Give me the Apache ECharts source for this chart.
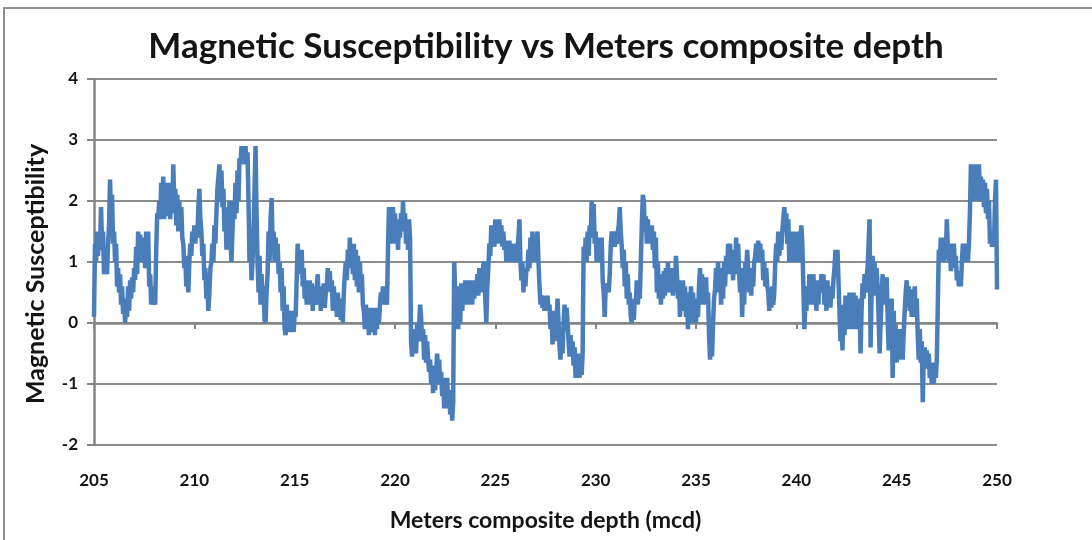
<!DOCTYPE html>
<html>
<head>
<meta charset="utf-8">
<script src="https://cdn.jsdelivr.net/npm/echarts@6/dist/echarts.min.js"></script>
<style>
html,body{margin:0;padding:0;background:#fff;}
#chart{width:1092px;height:540px;}
</style>
</head>
<body>
<div id="chart"></div>
<script>
// Chart text
const titleText = 'Magnetic Susceptibility vs Meters composite depth';
const yAxisName = 'Magnetic Susceptibility';
const xAxisName = 'Meters composite depth (mcd)';

// Axis ticks
const xTicks = [205, 210, 215, 220, 225, 230, 235, 240, 245, 250];
const yTicks = [-2, -1, 0, 1, 2, 3, 4];

// Data: [depth (mcd), magnetic susceptibility] in 5 m segments
const seg205 = [
[205.00,0.1],[205.05,1.3],[205.10,1.0],[205.15,1.5],[205.20,1.1],[205.25,1.4],[205.30,1.2],[205.35,1.9],[205.40,1.3],[205.45,1.5],
[205.50,0.8],[205.55,1.2],[205.60,1.0],[205.65,0.8],[205.70,1.3],[205.75,1.6],[205.80,2.35],[205.85,1.7],[205.90,2.1],[205.95,1.3],
[206.00,1.5],[206.05,1.0],[206.10,1.3],[206.15,0.6],[206.20,0.9],[206.25,0.5],[206.30,0.8],[206.35,0.3],[206.40,0.6],[206.45,0.15],
[206.50,0.4],[206.55,0.0],[206.60,0.3],[206.65,0.1],[206.70,0.6],[206.75,0.2],[206.80,0.7],[206.85,0.4],[206.90,0.75],[206.95,0.5],
[207.00,0.9],[207.05,0.7],[207.10,1.25],[207.15,0.8],[207.20,1.5],[207.25,1.0],[207.30,1.45],[207.35,1.0],[207.40,1.4],[207.45,1.1],
[207.50,1.3],[207.55,0.9],[207.60,1.5],[207.65,1.0],[207.70,1.5],[207.75,0.6],[207.80,0.8],[207.85,0.3],[207.90,0.6],[207.95,0.3],
[208.00,0.5],[208.05,0.3],[208.10,1.2],[208.15,1.8],[208.20,1.7],[208.25,2.0],[208.30,1.7],[208.35,2.3],[208.40,1.8],[208.45,2.4],
[208.50,1.7],[208.55,2.2],[208.60,1.8],[208.65,2.3],[208.70,1.75],[208.75,2.2],[208.80,1.7],[208.85,2.3],[208.90,1.8],[208.95,2.6],
[209.00,2.0],[209.05,2.2],[209.10,1.6],[209.15,2.1],[209.20,1.5],[209.25,2.0],[209.30,1.6],[209.35,1.9],[209.40,1.4],[209.45,1.3],
[209.50,0.9],[209.55,1.1],[209.60,0.6],[209.65,0.8],[209.70,0.5],[209.75,1.0],[209.80,1.3],[209.85,1.1],[209.90,1.5],[209.95,1.3]
];
const seg210 = [
[210.00,1.6],[210.05,1.3],[210.10,1.6],[210.15,1.4],[210.20,1.9],[210.25,2.2],[210.30,1.7],[210.35,1.5],[210.40,1.1],[210.45,1.3],
[210.50,0.7],[210.55,0.9],[210.60,0.4],[210.65,0.6],[210.70,0.2],[210.75,0.5],[210.80,0.9],[210.85,1.0],[210.90,1.3],[210.95,1.0],
[211.00,1.6],[211.05,1.3],[211.10,1.8],[211.15,2.2],[211.20,2.4],[211.25,2.6],[211.30,2.0],[211.35,2.5],[211.40,1.9],[211.45,2.2],
[211.50,1.5],[211.55,1.9],[211.60,1.2],[211.65,1.7],[211.70,1.3],[211.75,2.0],[211.80,1.4],[211.85,1.0],[211.90,1.5],[211.95,2.0],
[212.00,1.7],[212.05,2.3],[212.10,1.8],[212.15,2.5],[212.20,2.0],[212.25,2.7],[212.30,2.6],[212.35,2.9],[212.40,2.6],[212.45,2.9],
[212.50,2.7],[212.55,2.9],[212.60,2.6],[212.65,2.8],[212.70,2.0],[212.75,1.0],[212.80,1.3],[212.85,0.7],[212.90,1.0],[212.95,1.5],
[213.00,2.2],[213.05,2.9],[213.10,1.8],[213.15,1.0],[213.20,0.5],[213.25,1.1],[213.30,0.3],[213.35,0.8],[213.40,0.4],[213.45,0.6],
[213.50,0.05],[213.55,0.0],[213.60,0.5],[213.65,0.8],[213.70,1.5],[213.75,1.0],[213.80,1.7],[213.85,2.05],[213.90,1.3],[213.95,1.5],
[214.00,1.0],[214.05,1.4],[214.10,1.0],[214.15,1.3],[214.20,0.8],[214.25,1.0],[214.30,0.5],[214.35,0.9],[214.40,0.2],[214.45,0.6],
[214.50,-0.1],[214.55,-0.2],[214.60,0.3],[214.65,-0.1],[214.70,0.2],[214.75,-0.15],[214.80,0.1],[214.85,-0.1],[214.90,0.2],[214.95,-0.15]
];
const seg215 = [
[215.00,0.15],[215.05,0.1],[215.10,0.7],[215.15,1.3],[215.20,0.9],[215.25,1.2],[215.30,0.8],[215.35,1.2],[215.40,0.6],[215.45,0.9],
[215.50,0.4],[215.55,0.7],[215.60,0.3],[215.65,0.6],[215.70,0.3],[215.75,0.7],[215.80,0.4],[215.85,0.65],[215.90,0.2],[215.95,0.6],
[216.00,0.3],[216.05,0.5],[216.10,0.6],[216.15,0.8],[216.20,0.3],[216.25,0.6],[216.30,0.2],[216.35,0.5],[216.40,0.3],[216.45,0.65],
[216.50,0.25],[216.55,0.5],[216.60,0.6],[216.65,0.9],[216.70,0.55],[216.75,0.85],[216.80,0.5],[216.85,0.7],[216.90,0.2],[216.95,0.6],
[217.00,0.3],[217.05,0.5],[217.10,0.1],[217.15,0.5],[217.20,0.2],[217.25,0.4],[217.30,0.05],[217.35,0.3],[217.40,0.0],[217.45,0.5],
[217.50,0.8],[217.55,1.0],[217.60,0.7],[217.65,1.2],[217.70,0.9],[217.75,1.4],[217.80,0.9],[217.85,1.3],[217.90,0.8],[217.95,1.3],
[218.00,0.7],[218.05,1.2],[218.10,0.6],[218.15,1.1],[218.20,0.5],[218.25,1.0],[218.30,0.6],[218.35,0.8],[218.40,0.3],[218.45,0.2],
[218.50,-0.1],[218.55,0.3],[218.60,0.0],[218.65,0.25],[218.70,-0.2],[218.75,0.2],[218.80,-0.15],[218.85,0.25],[218.90,-0.1],[218.95,0.2],
[219.00,-0.2],[219.05,0.25],[219.10,-0.1],[219.15,0.2],[219.20,0.0],[219.25,0.3],[219.30,0.5],[219.35,0.35],[219.40,0.6],[219.45,0.3],
[219.50,0.55],[219.55,0.4],[219.60,0.3],[219.65,1.2],[219.70,1.9],[219.75,1.4],[219.80,1.8],[219.85,1.3],[219.90,1.9],[219.95,1.5]
];
const seg220 = [
[220.00,1.8],[220.05,1.3],[220.10,1.7],[220.15,1.2],[220.20,1.6],[220.25,1.4],[220.30,1.8],[220.35,1.5],[220.40,2.0],[220.45,1.5],
[220.50,1.8],[220.55,1.3],[220.60,1.6],[220.65,1.2],[220.70,1.7],[220.75,1.4],[220.80,-0.3],[220.85,-0.55],[220.90,-0.1],[220.95,-0.5],
[221.00,-0.2],[221.05,-0.5],[221.10,0.0],[221.15,-0.3],[221.20,-0.1],[221.25,0.3],[221.30,0.1],[221.35,-0.3],[221.40,-0.1],[221.45,-0.6],
[221.50,-0.2],[221.55,-0.65],[221.60,-0.3],[221.65,-0.6],[221.70,-0.8],[221.75,-0.6],[221.80,-1.0],[221.85,-0.7],[221.90,-1.15],[221.95,-0.8],
[222.00,-1.1],[222.05,-0.8],[222.10,-0.5],[222.15,-0.9],[222.20,-0.6],[222.25,-1.0],[222.30,-0.8],[222.35,-1.2],[222.40,-0.9],[222.45,-1.4],
[222.50,-1.0],[222.55,-1.3],[222.60,-0.9],[222.65,-1.4],[222.70,-1.1],[222.75,-1.5],[222.80,-1.2],[222.85,-1.6],[222.90,-1.3],[222.95,1.0],
[223.00,0.5],[223.05,0.2],[223.10,0.6],[223.15,-0.1],[223.20,0.5],[223.25,0.0],[223.30,0.65],[223.35,0.2],[223.40,0.5],[223.45,0.3],
[223.50,0.7],[223.55,0.4],[223.60,0.6],[223.65,0.3],[223.70,0.7],[223.75,0.4],[223.80,0.65],[223.85,0.3],[223.90,0.7],[223.95,0.4],
[224.00,0.6],[224.05,0.5],[224.10,0.8],[224.15,0.45],[224.20,0.9],[224.25,0.5],[224.30,0.8],[224.35,0.5],[224.40,0.95],[224.45,1.0],
[224.50,0.4],[224.55,0.0],[224.60,0.6],[224.65,0.9],[224.70,1.3],[224.75,1.1],[224.80,1.6],[224.85,1.3],[224.90,1.5],[224.95,1.25]
];
const seg225 = [
[225.00,1.7],[225.05,1.3],[225.10,1.6],[225.15,1.3],[225.20,1.7],[225.25,1.3],[225.30,1.6],[225.35,1.25],[225.40,1.5],[225.45,1.2],
[225.50,1.35],[225.55,1.0],[225.60,1.3],[225.65,1.0],[225.70,1.35],[225.75,1.0],[225.80,1.2],[225.85,1.0],[225.90,1.3],[225.95,1.1],
[226.00,1.3],[226.05,1.0],[226.10,1.2],[226.15,1.4],[226.20,1.7],[226.25,1.0],[226.30,0.7],[226.35,1.0],[226.40,0.5],[226.45,0.9],
[226.50,0.6],[226.55,0.9],[226.60,0.85],[226.65,1.2],[226.70,0.9],[226.75,1.4],[226.80,1.0],[226.85,1.5],[226.90,1.1],[226.95,1.4],
[227.00,1.0],[227.05,1.3],[227.10,1.5],[227.15,1.0],[227.20,0.6],[227.25,0.3],[227.30,0.45],[227.35,0.25],[227.40,0.45],[227.45,0.2],
[227.50,0.4],[227.55,0.2],[227.60,0.45],[227.65,0.2],[227.70,0.3],[227.75,-0.1],[227.80,0.2],[227.85,-0.35],[227.90,0.0],[227.95,-0.3],
[228.00,0.2],[228.05,0.0],[228.10,0.4],[228.15,0.0],[228.20,-0.4],[228.25,-0.6],[228.30,-0.2],[228.35,-0.5],[228.40,0.0],[228.45,0.3],
[228.50,-0.1],[228.55,0.25],[228.60,0.0],[228.65,-0.3],[228.70,-0.55],[228.75,-0.2],[228.80,-0.5],[228.85,-0.3],[228.90,-0.7],[228.95,-0.4],
[229.00,-0.9],[229.05,-0.5],[229.10,-0.9],[229.15,-0.6],[229.20,-0.9],[229.25,-0.5],[229.30,-0.85],[229.35,-0.5],[229.40,1.25],[229.45,1.0],
[229.50,1.4],[229.55,1.0],[229.60,1.5],[229.65,1.1],[229.70,1.6],[229.75,1.4],[229.80,2.0],[229.85,1.8],[229.90,1.95],[229.95,1.3]
];
const seg230 = [
[230.00,1.5],[230.05,1.0],[230.10,1.4],[230.15,1.0],[230.20,1.3],[230.25,1.1],[230.30,1.4],[230.35,0.7],[230.40,0.5],[230.45,0.1],
[230.50,0.6],[230.55,0.5],[230.60,0.65],[230.65,0.5],[230.70,0.8],[230.75,1.25],[230.80,1.5],[230.85,1.3],[230.90,1.5],[230.95,1.25],
[231.00,1.4],[231.05,1.3],[231.10,1.5],[231.15,1.6],[231.20,1.9],[231.25,1.5],[231.30,1.25],[231.35,0.9],[231.40,1.2],[231.45,0.6],
[231.50,1.0],[231.55,0.4],[231.60,0.8],[231.65,0.3],[231.70,0.5],[231.75,0.1],[231.80,0.0],[231.85,0.3],[231.90,0.05],[231.95,0.4],
[232.00,0.3],[232.05,0.7],[232.10,0.3],[232.15,0.6],[232.20,0.4],[232.25,1.0],[232.30,1.6],[232.35,2.1],[232.40,2.0],[232.45,1.5],
[232.50,1.75],[232.55,1.3],[232.60,1.7],[232.65,1.3],[232.70,1.6],[232.75,1.4],[232.80,1.6],[232.85,1.2],[232.90,1.5],[232.95,0.9],
[233.00,1.4],[233.05,0.5],[233.10,1.0],[233.15,0.4],[233.20,0.8],[233.25,0.3],[233.30,0.6],[233.35,0.4],[233.40,0.85],[233.45,0.45],
[233.50,0.9],[233.55,0.5],[233.60,1.0],[233.65,0.5],[233.70,0.9],[233.75,0.5],[233.80,0.8],[233.85,0.45],[233.90,0.9],[233.95,0.6],
[234.00,1.1],[234.05,0.8],[234.10,0.4],[234.15,0.7],[234.20,0.1],[234.25,0.5],[234.30,0.2],[234.35,0.7],[234.40,0.3],[234.45,0.6],
[234.50,0.1],[234.55,0.5],[234.60,-0.1],[234.65,0.4],[234.70,0.1],[234.75,0.6],[234.80,0.0],[234.85,0.5],[234.90,0.1],[234.95,0.4]
];
const seg235 = [
[235.00,0.0],[235.05,0.35],[235.10,0.1],[235.15,0.6],[235.20,0.9],[235.25,0.5],[235.30,0.8],[235.35,0.3],[235.40,0.7],[235.45,0.4],
[235.50,0.75],[235.55,0.3],[235.60,0.5],[235.65,-0.2],[235.70,-0.6],[235.75,-0.3],[235.80,-0.55],[235.85,0.0],[235.90,0.4],[235.95,0.55],
[236.00,0.9],[236.05,0.6],[236.10,1.0],[236.15,0.5],[236.20,0.9],[236.25,0.3],[236.30,0.8],[236.35,0.4],[236.40,1.0],[236.45,0.6],
[236.50,1.1],[236.55,0.8],[236.60,1.3],[236.65,0.9],[236.70,1.3],[236.75,0.8],[236.80,1.1],[236.85,0.7],[236.90,1.2],[236.95,0.8],
[237.00,1.4],[237.05,0.9],[237.10,1.3],[237.15,0.8],[237.20,0.5],[237.25,0.9],[237.30,0.1],[237.35,0.7],[237.40,0.3],[237.45,1.0],
[237.50,0.8],[237.55,1.2],[237.60,0.9],[237.65,0.5],[237.70,0.9],[237.75,0.45],[237.80,0.8],[237.85,0.6],[237.90,1.0],[237.95,1.1],
[238.00,1.3],[238.05,1.0],[238.10,1.35],[238.15,1.05],[238.20,1.3],[238.25,1.0],[238.30,1.2],[238.35,0.7],[238.40,1.0],[238.45,0.6],
[238.50,0.9],[238.55,0.6],[238.60,0.5],[238.65,0.2],[238.70,0.5],[238.75,0.25],[238.80,0.6],[238.85,0.3],[238.90,0.5],[238.95,1.0],
[239.00,1.3],[239.05,1.0],[239.10,1.5],[239.15,1.1],[239.20,1.4],[239.25,1.2],[239.30,1.5],[239.35,1.7],[239.40,1.9],[239.45,1.6],
[239.50,1.8],[239.55,1.3],[239.60,1.7],[239.65,1.0],[239.70,1.5],[239.75,1.0],[239.80,1.4],[239.85,1.0],[239.90,1.5],[239.95,1.0]
];
const seg240 = [
[240.00,1.4],[240.05,1.0],[240.10,1.5],[240.15,1.0],[240.20,1.4],[240.25,1.6],[240.30,1.3],[240.35,0.6],[240.40,-0.1],[240.45,0.3],
[240.50,0.2],[240.55,0.6],[240.60,0.3],[240.65,0.8],[240.70,0.4],[240.75,0.7],[240.80,0.3],[240.85,0.8],[240.90,0.4],[240.95,0.7],
[241.00,0.2],[241.05,0.6],[241.10,0.3],[241.15,0.7],[241.20,0.5],[241.25,0.8],[241.30,0.6],[241.35,0.8],[241.40,0.3],[241.45,0.6],
[241.50,0.2],[241.55,0.7],[241.60,0.3],[241.65,0.6],[241.70,0.25],[241.75,0.6],[241.80,0.4],[241.85,0.7],[241.90,0.9],[241.95,1.2],
[242.00,0.8],[242.05,1.2],[242.10,0.7],[242.15,0.2],[242.20,-0.3],[242.25,0.1],[242.30,-0.45],[242.35,0.3],[242.40,-0.2],[242.45,0.45],
[242.50,0.0],[242.55,0.4],[242.60,-0.1],[242.65,0.5],[242.70,0.0],[242.75,0.4],[242.80,-0.1],[242.85,0.5],[242.90,0.1],[242.95,0.45],
[243.00,-0.1],[243.05,0.4],[243.10,0.0],[243.15,0.3],[243.20,-0.5],[243.25,0.2],[243.30,0.65],[243.35,0.4],[243.40,0.8],[243.45,0.5],
[243.50,0.75],[243.55,0.9],[243.60,1.3],[243.65,1.7],[243.70,-0.4],[243.75,0.5],[243.80,1.1],[243.85,0.6],[243.90,1.0],[243.95,0.45],
[244.00,0.9],[244.05,0.6],[244.10,0.1],[244.15,-0.5],[244.20,0.0],[244.25,0.4],[244.30,0.8],[244.35,0.3],[244.40,0.7],[244.45,0.4],
[244.50,0.75],[244.55,0.1],[244.60,-0.45],[244.65,0.15],[244.70,-0.2],[244.75,0.4],[244.80,-0.9],[244.85,0.2],[244.90,-0.5],[244.95,-0.1]
];
const seg245 = [
[245.00,-0.65],[245.05,-0.2],[245.10,-0.6],[245.15,-0.1],[245.20,-0.5],[245.25,-0.2],[245.30,-0.6],[245.35,-0.15],[245.40,0.2],[245.45,0.5],
[245.50,0.7],[245.55,0.3],[245.60,0.6],[245.65,0.2],[245.70,0.55],[245.75,0.1],[245.80,0.5],[245.85,0.2],[245.90,0.6],[245.95,0.1],
[246.00,0.4],[246.05,-0.2],[246.10,-0.6],[246.15,-0.1],[246.20,-0.65],[246.25,-0.3],[246.30,-1.3],[246.35,-0.6],[246.40,-0.4],[246.45,-0.75],
[246.50,-0.45],[246.55,-0.7],[246.60,-0.5],[246.65,-0.9],[246.70,-0.65],[246.75,-1.0],[246.80,-0.7],[246.85,-1.0],[246.90,-0.65],[246.95,-0.9],
[247.00,-0.6],[247.05,0.3],[247.10,1.2],[247.15,1.0],[247.20,1.4],[247.25,1.0],[247.30,1.3],[247.35,1.0],[247.40,1.4],[247.45,1.1],
[247.50,1.7],[247.55,1.2],[247.60,1.0],[247.65,1.3],[247.70,0.85],[247.75,1.2],[247.80,0.9],[247.85,1.3],[247.90,0.9],[247.95,1.1],
[248.00,0.7],[248.05,0.85],[248.10,0.6],[248.15,0.8],[248.20,0.6],[248.25,1.0],[248.30,1.3],[248.35,1.0],[248.40,1.3],[248.45,1.0],
[248.50,1.25],[248.55,1.0],[248.60,1.3],[248.65,1.8],[248.70,2.6],[248.75,2.0],[248.80,2.5],[248.85,2.0],[248.90,2.6],[248.95,2.1],
[249.00,2.5],[249.05,2.0],[249.10,2.6],[249.15,2.1],[249.20,2.4],[249.25,2.0],[249.30,2.35],[249.35,1.9],[249.40,2.3],[249.45,1.8],
[249.50,2.2],[249.55,1.7],[249.60,2.0],[249.65,1.3],[249.70,1.5],[249.75,1.25],[249.80,1.5],[249.85,1.3],[249.90,2.0],[249.95,2.35],
[250.00,0.55]
];

const seriesData = [].concat(seg205, seg210, seg215, seg220, seg225, seg230, seg235, seg240, seg245);

const FONT = 'Lato';
const TEXT = '#141414';
const GRID_C = '#8c8c8c';

const chart = echarts.init(document.getElementById('chart'), null, {renderer: 'canvas'});
chart.setOption({
  animation: false,
  backgroundColor: '#ffffff',
  title: {
    text: titleText,
    left: 'center',
    top: 24,
    textStyle: {fontFamily: FONT, fontWeight: 'bold', fontSize: 35, color: TEXT}
  },
  graphic: [{
    type: 'rect',
    shape: {x: 4, y: 8, width: 1200, height: 700},
    style: {fill: 'none', stroke: '#8f8f8f', lineWidth: 2},
    silent: true, z: 100
  }],
  grid: {left: 94, right: 95, top: 79, bottom: 95},
  xAxis: [{
    type: 'value',
    min: xTicks[0], max: xTicks[xTicks.length - 1], interval: 5,
    position: 'bottom',
    name: xAxisName,
    nameLocation: 'middle',
    nameGap: 64,
    nameTextStyle: {fontFamily: FONT, fontWeight: 'bold', fontSize: 23, color: TEXT},
    axisLine: {show: false, onZero: false},
    axisTick: {show: false},
    splitLine: {show: false},
    axisLabel: {fontFamily: FONT, fontWeight: 'bold', fontSize: 17, color: TEXT, margin: 27}
  }, {
    type: 'value',
    min: xTicks[0], max: xTicks[xTicks.length - 1], interval: 5,
    position: 'bottom',
    axisLine: {show: true, onZero: true, lineStyle: {color: '#858585', width: 2.5}},
    axisTick: {show: true, length: 6, lineStyle: {color: '#858585', width: 2}},
    axisLabel: {show: false},
    splitLine: {show: false}
  }],
  yAxis: {
    type: 'value',
    min: yTicks[0], max: yTicks[yTicks.length - 1], interval: 1,
    name: yAxisName,
    nameLocation: 'middle',
    nameGap: 46,
    nameTextStyle: {fontFamily: FONT, fontWeight: 'bold', fontSize: 25, color: TEXT, padding: [0, 24, 0, 0]},
    axisLine: {show: true, lineStyle: {color: '#858585', width: 2.5}},
    axisTick: {show: true, length: 7, lineStyle: {color: '#858585', width: 2}},
    axisLabel: {fontFamily: FONT, fontWeight: 'bold', fontSize: 17, color: TEXT, margin: 16},
    splitLine: {show: true, lineStyle: {color: GRID_C, width: 2}}
  },
  series: [{
    type: 'line',
    xAxisIndex: 0,
    data: seriesData,
    showSymbol: false,
    symbol: 'none',
    lineStyle: {color: '#4a7ebb', width: 4.5},
    itemStyle: {color: '#4a7ebb'},
    z: 5
  }]
});
</script>
</body>
</html>
